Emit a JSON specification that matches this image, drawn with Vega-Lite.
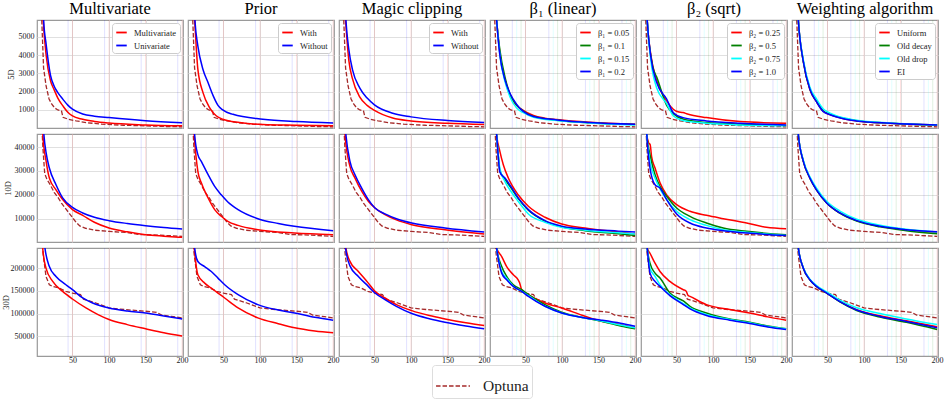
{
"$schema":"https://vega.github.io/schema/vega-lite/v6.json",
"background":"white",
"padding":{"left":0,"top":0,"right":4,"bottom":0},
"config":{
 "view":{"stroke":"#9a9a9a","strokeWidth":1.2},
 "font":"Liberation Serif",
 "axis":{"grid":true,"gridColor":"#dcdcdc","gridWidth":0.9,"domain":false,"ticks":false,"labelFont":"Liberation Serif","labelFontSize":8,"labelColor":"#222","titleFont":"Liberation Serif","titleFontSize":8.5,"titleFontWeight":"normal","titleColor":"#222"},
 "title":{"font":"Liberation Serif","fontSize":16.5,"fontWeight":"normal","anchor":"middle","offset":2,"color":"#000"},
 "legend":{"orient":"top-right","offset":3,"strokeColor":"#cccccc","fillColor":"#ffffff","cornerRadius":3,"padding":3,"symbolType":"stroke","symbolSize":110,"symbolStrokeWidth":1.8,"symbolOpacity":1,"labelFont":"Liberation Serif","labelFontSize":8.5,"labelOffset":6,"rowPadding":2,"labelColor":"#222"}
},
"datasets":{
"o5":[{"s":"Optuna","x":7,"y":7000},{"s":"Optuna","x":10.5,"y":3300},{"s":"Optuna","x":14,"y":2300},{"s":"Optuna","x":18,"y":1600},{"s":"Optuna","x":22,"y":1300},{"s":"Optuna","x":26,"y":1100},{"s":"Optuna","x":30,"y":1000},{"s":"Optuna","x":35,"y":950},{"s":"Optuna","x":37,"y":600},{"s":"Optuna","x":45,"y":480},{"s":"Optuna","x":55,"y":400},{"s":"Optuna","x":70,"y":300},{"s":"Optuna","x":90,"y":220},{"s":"Optuna","x":120,"y":160},{"s":"Optuna","x":150,"y":130},{"s":"Optuna","x":180,"y":90},{"s":"Optuna","x":200,"y":75}],
"o10":[{"s":"Optuna","x":8,"y":50000},{"s":"Optuna","x":9.5,"y":40000},{"s":"Optuna","x":12,"y":29000},{"s":"Optuna","x":15,"y":26500},{"s":"Optuna","x":20,"y":24000},{"s":"Optuna","x":25,"y":21000},{"s":"Optuna","x":30,"y":19000},{"s":"Optuna","x":35,"y":16500},{"s":"Optuna","x":40,"y":14500},{"s":"Optuna","x":45,"y":12500},{"s":"Optuna","x":50,"y":10500},{"s":"Optuna","x":55,"y":8500},{"s":"Optuna","x":60,"y":7000},{"s":"Optuna","x":68,"y":6000},{"s":"Optuna","x":80,"y":5200},{"s":"Optuna","x":100,"y":4700},{"s":"Optuna","x":125,"y":4200},{"s":"Optuna","x":140,"y":3400},{"s":"Optuna","x":170,"y":3100},{"s":"Optuna","x":200,"y":2600}],
"o30":[{"s":"Optuna","x":7,"y":280000},{"s":"Optuna","x":10,"y":230000},{"s":"Optuna","x":13.8,"y":181800},{"s":"Optuna","x":18.4,"y":163600},{"s":"Optuna","x":23,"y":160000},{"s":"Optuna","x":32,"y":156300},{"s":"Optuna","x":41,"y":149000},{"s":"Optuna","x":50,"y":145400},{"s":"Optuna","x":61,"y":141800},{"s":"Optuna","x":65,"y":132000},{"s":"Optuna","x":75,"y":127000},{"s":"Optuna","x":82,"y":123500},{"s":"Optuna","x":100,"y":112600},{"s":"Optuna","x":122,"y":109000},{"s":"Optuna","x":150,"y":105400},{"s":"Optuna","x":165,"y":103000},{"s":"Optuna","x":172,"y":97000},{"s":"Optuna","x":185,"y":94000},{"s":"Optuna","x":200,"y":90800}],
"sp1":[{"s":"Multivariate","x":50},{"s":"Multivariate","x":100},{"s":"Multivariate","x":150},{"s":"Multivariate","x":200},{"s":"Univariate","x":44},{"s":"Univariate","x":94},{"s":"Univariate","x":144},{"s":"Univariate","x":194}],
"sp2":[{"s":"With","x":50},{"s":"With","x":100},{"s":"With","x":150},{"s":"With","x":200},{"s":"Without","x":44},{"s":"Without","x":94},{"s":"Without","x":144},{"s":"Without","x":194}],
"sp4":[{"s":"β₁ = 0.05","x":50},{"s":"β₁ = 0.05","x":100},{"s":"β₁ = 0.05","x":150},{"s":"β₁ = 0.05","x":200},{"s":"β₁ = 0.1","x":44},{"s":"β₁ = 0.1","x":94},{"s":"β₁ = 0.1","x":144},{"s":"β₁ = 0.1","x":194},{"s":"β₁ = 0.15","x":38},{"s":"β₁ = 0.15","x":88},{"s":"β₁ = 0.15","x":138},{"s":"β₁ = 0.15","x":188},{"s":"β₁ = 0.2","x":32},{"s":"β₁ = 0.2","x":82},{"s":"β₁ = 0.2","x":132},{"s":"β₁ = 0.2","x":182}],
"sp5":[{"s":"β₂ = 0.25","x":50},{"s":"β₂ = 0.25","x":100},{"s":"β₂ = 0.25","x":150},{"s":"β₂ = 0.25","x":200},{"s":"β₂ = 0.5","x":44},{"s":"β₂ = 0.5","x":94},{"s":"β₂ = 0.5","x":144},{"s":"β₂ = 0.5","x":194},{"s":"β₂ = 0.75","x":38},{"s":"β₂ = 0.75","x":88},{"s":"β₂ = 0.75","x":138},{"s":"β₂ = 0.75","x":188},{"s":"β₂ = 1.0","x":32},{"s":"β₂ = 1.0","x":82},{"s":"β₂ = 1.0","x":132},{"s":"β₂ = 1.0","x":182}],
"sp6":[{"s":"Uniform","x":50},{"s":"Uniform","x":100},{"s":"Uniform","x":150},{"s":"Uniform","x":200},{"s":"Old decay","x":44},{"s":"Old decay","x":94},{"s":"Old decay","x":144},{"s":"Old decay","x":194},{"s":"Old drop","x":38},{"s":"Old drop","x":88},{"s":"Old drop","x":138},{"s":"Old drop","x":188},{"s":"EI","x":32},{"s":"EI","x":82},{"s":"EI","x":132},{"s":"EI","x":182}],
"p11":[{"s":"Multivariate","x":8,"y":7500},{"s":"Multivariate","x":10,"y":5900},{"s":"Multivariate","x":14,"y":4000},{"s":"Multivariate","x":20,"y":2600},{"s":"Multivariate","x":25,"y":2100},{"s":"Multivariate","x":30,"y":1650},{"s":"Multivariate","x":37,"y":1220},{"s":"Multivariate","x":44,"y":860},{"s":"Multivariate","x":50,"y":670},{"s":"Multivariate","x":64,"y":490},{"s":"Multivariate","x":80,"y":370},{"s":"Multivariate","x":100,"y":280},{"s":"Multivariate","x":150,"y":180},{"s":"Multivariate","x":200,"y":130},
{"s":"Univariate","x":9,"y":7500},{"s":"Univariate","x":10.6,"y":5900},{"s":"Univariate","x":14,"y":4600},{"s":"Univariate","x":20,"y":2900},{"s":"Univariate","x":25,"y":2300},{"s":"Univariate","x":30,"y":1950},{"s":"Univariate","x":37,"y":1580},{"s":"Univariate","x":44,"y":1250},{"s":"Univariate","x":50,"y":1040},{"s":"Univariate","x":64,"y":780},{"s":"Univariate","x":80,"y":660},{"s":"Univariate","x":100,"y":580},{"s":"Univariate","x":150,"y":410},{"s":"Univariate","x":200,"y":300}],
"p12":[{"s":"With","x":8,"y":7500},{"s":"With","x":10.6,"y":5900},{"s":"With","x":15,"y":3220},{"s":"With","x":22,"y":1950},{"s":"With","x":31,"y":1130},{"s":"With","x":40,"y":680},{"s":"With","x":49,"y":490},{"s":"With","x":72,"y":310},{"s":"With","x":104,"y":200},{"s":"With","x":150,"y":165},{"s":"With","x":200,"y":130},
{"s":"Without","x":9,"y":7500},{"s":"Without","x":11,"y":5900},{"s":"Without","x":15,"y":4500},{"s":"Without","x":22,"y":3220},{"s":"Without","x":29,"y":2490},{"s":"Without","x":36,"y":1770},{"s":"Without","x":42.5,"y":1250},{"s":"Without","x":49,"y":1000},{"s":"Without","x":63,"y":760},{"s":"Without","x":104,"y":490},{"s":"Without","x":150,"y":360},{"s":"Without","x":200,"y":280}],
"p13":[{"s":"With","x":8,"y":7500},{"s":"With","x":10.5,"y":5900},{"s":"With","x":15,"y":3700},{"s":"With","x":20,"y":2700},{"s":"With","x":30,"y":1700},{"s":"With","x":40,"y":1250},{"s":"With","x":50,"y":980},{"s":"With","x":75,"y":560},{"s":"With","x":100,"y":400},{"s":"With","x":150,"y":270},{"s":"With","x":200,"y":200},
{"s":"Without","x":9,"y":7500},{"s":"Without","x":11,"y":5900},{"s":"Without","x":15,"y":4300},{"s":"Without","x":20,"y":3200},{"s":"Without","x":30,"y":2200},{"s":"Without","x":40,"y":1650},{"s":"Without","x":50,"y":1280},{"s":"Without","x":75,"y":820},{"s":"Without","x":100,"y":620},{"s":"Without","x":150,"y":420},{"s":"Without","x":200,"y":310}],
"p14":[{"s":"β₁ = 0.05","x":8,"y":7500},{"s":"β₁ = 0.05","x":10.6,"y":5900},{"s":"β₁ = 0.05","x":15,"y":4100},{"s":"β₁ = 0.05","x":22,"y":2650},{"s":"β₁ = 0.05","x":29,"y":1800},{"s":"β₁ = 0.05","x":38,"y":1250},{"s":"β₁ = 0.05","x":47,"y":980},{"s":"β₁ = 0.05","x":61,"y":700},{"s":"β₁ = 0.05","x":75,"y":560},{"s":"β₁ = 0.05","x":93,"y":470},{"s":"β₁ = 0.05","x":138,"y":320},{"s":"β₁ = 0.05","x":200,"y":220},
{"s":"β₁ = 0.1","x":8,"y":7500},{"s":"β₁ = 0.1","x":10.6,"y":5900},{"s":"β₁ = 0.1","x":15,"y":4300},{"s":"β₁ = 0.1","x":22,"y":2800},{"s":"β₁ = 0.1","x":29,"y":1850},{"s":"β₁ = 0.1","x":38,"y":1250},{"s":"β₁ = 0.1","x":47,"y":940},{"s":"β₁ = 0.1","x":61,"y":640},{"s":"β₁ = 0.1","x":93,"y":440},{"s":"β₁ = 0.1","x":138,"y":300},{"s":"β₁ = 0.1","x":200,"y":200},
{"s":"β₁ = 0.15","x":8,"y":7500},{"s":"β₁ = 0.15","x":10.6,"y":5900},{"s":"β₁ = 0.15","x":15,"y":4000},{"s":"β₁ = 0.15","x":22,"y":2550},{"s":"β₁ = 0.15","x":29,"y":1700},{"s":"β₁ = 0.15","x":38,"y":1100},{"s":"β₁ = 0.15","x":47,"y":850},{"s":"β₁ = 0.15","x":61,"y":600},{"s":"β₁ = 0.15","x":93,"y":420},{"s":"β₁ = 0.15","x":138,"y":290},{"s":"β₁ = 0.15","x":200,"y":180},
{"s":"β₁ = 0.2","x":8,"y":7500},{"s":"β₁ = 0.2","x":10.6,"y":5900},{"s":"β₁ = 0.2","x":15,"y":4000},{"s":"β₁ = 0.2","x":22,"y":2650},{"s":"β₁ = 0.2","x":29,"y":1900},{"s":"β₁ = 0.2","x":38,"y":1300},{"s":"β₁ = 0.2","x":47,"y":920},{"s":"β₁ = 0.2","x":61,"y":640},{"s":"β₁ = 0.2","x":93,"y":450},{"s":"β₁ = 0.2","x":138,"y":310},{"s":"β₁ = 0.2","x":200,"y":210}],
"p15":[{"s":"β₂ = 0.25","x":8,"y":7500},{"s":"β₂ = 0.25","x":10,"y":5900},{"s":"β₂ = 0.25","x":15,"y":4000},{"s":"β₂ = 0.25","x":23,"y":2600},{"s":"β₂ = 0.25","x":36.6,"y":1500},{"s":"β₂ = 0.25","x":45.7,"y":1040},{"s":"β₂ = 0.25","x":52,"y":900},{"s":"β₂ = 0.25","x":59,"y":860},{"s":"β₂ = 0.25","x":65,"y":780},{"s":"β₂ = 0.25","x":91,"y":580},{"s":"β₂ = 0.25","x":137,"y":360},{"s":"β₂ = 0.25","x":200,"y":270},
{"s":"β₂ = 0.5","x":8,"y":7500},{"s":"β₂ = 0.5","x":10,"y":5900},{"s":"β₂ = 0.5","x":18,"y":3300},{"s":"β₂ = 0.5","x":23,"y":2800},{"s":"β₂ = 0.5","x":36.6,"y":1250},{"s":"β₂ = 0.5","x":45.7,"y":800},{"s":"β₂ = 0.5","x":59,"y":500},{"s":"β₂ = 0.5","x":91,"y":310},{"s":"β₂ = 0.5","x":137,"y":220},{"s":"β₂ = 0.5","x":200,"y":150},
{"s":"β₂ = 0.75","x":8,"y":7500},{"s":"β₂ = 0.75","x":10,"y":5900},{"s":"β₂ = 0.75","x":15,"y":3700},{"s":"β₂ = 0.75","x":23,"y":2200},{"s":"β₂ = 0.75","x":36.6,"y":1350},{"s":"β₂ = 0.75","x":45.7,"y":680},{"s":"β₂ = 0.75","x":59,"y":420},{"s":"β₂ = 0.75","x":91,"y":270},{"s":"β₂ = 0.75","x":137,"y":180},{"s":"β₂ = 0.75","x":200,"y":130},
{"s":"β₂ = 1.0","x":8,"y":7500},{"s":"β₂ = 1.0","x":10,"y":5900},{"s":"β₂ = 1.0","x":15,"y":3900},{"s":"β₂ = 1.0","x":23,"y":2500},{"s":"β₂ = 1.0","x":36.6,"y":1600},{"s":"β₂ = 1.0","x":45.7,"y":850},{"s":"β₂ = 1.0","x":59,"y":580},{"s":"β₂ = 1.0","x":91,"y":400},{"s":"β₂ = 1.0","x":137,"y":270},{"s":"β₂ = 1.0","x":200,"y":180}],
"p16":[{"s":"Uniform","x":8,"y":7500},{"s":"Uniform","x":10.2,"y":5900},{"s":"Uniform","x":17,"y":3650},{"s":"Uniform","x":26,"y":2100},{"s":"Uniform","x":35,"y":1450},{"s":"Uniform","x":44,"y":930},{"s":"Uniform","x":53.5,"y":740},{"s":"Uniform","x":72,"y":520},{"s":"Uniform","x":90,"y":400},{"s":"Uniform","x":136,"y":270},{"s":"Uniform","x":200,"y":180},
{"s":"Old decay","x":8,"y":7500},{"s":"Old decay","x":10.2,"y":5900},{"s":"Old decay","x":17,"y":3650},{"s":"Old decay","x":26,"y":2150},{"s":"Old decay","x":35,"y":1480},{"s":"Old decay","x":44,"y":960},{"s":"Old decay","x":53.5,"y":770},{"s":"Old decay","x":72,"y":540},{"s":"Old decay","x":90,"y":410},{"s":"Old decay","x":136,"y":270},{"s":"Old decay","x":200,"y":170},
{"s":"Old drop","x":8,"y":7500},{"s":"Old drop","x":10.2,"y":5900},{"s":"Old drop","x":17,"y":3750},{"s":"Old drop","x":26,"y":2250},{"s":"Old drop","x":35,"y":1600},{"s":"Old drop","x":44,"y":1060},{"s":"Old drop","x":53.5,"y":830},{"s":"Old drop","x":72,"y":570},{"s":"Old drop","x":90,"y":430},{"s":"Old drop","x":136,"y":280},{"s":"Old drop","x":200,"y":180},
{"s":"EI","x":8,"y":7500},{"s":"EI","x":10.2,"y":5900},{"s":"EI","x":17,"y":3650},{"s":"EI","x":26,"y":2130},{"s":"EI","x":35,"y":1450},{"s":"EI","x":44,"y":920},{"s":"EI","x":53.5,"y":740},{"s":"EI","x":72,"y":520},{"s":"EI","x":90,"y":400},{"s":"EI","x":136,"y":270},{"s":"EI","x":200,"y":175}],
"p21":[{"s":"Multivariate","x":8,"y":55000},{"s":"Multivariate","x":9.5,"y":45000},{"s":"Multivariate","x":14,"y":34000},{"s":"Multivariate","x":18.4,"y":27000},{"s":"Multivariate","x":27.5,"y":22100},{"s":"Multivariate","x":36.6,"y":18000},{"s":"Multivariate","x":50,"y":13800},{"s":"Multivariate","x":64,"y":11400},{"s":"Multivariate","x":80,"y":8500},{"s":"Multivariate","x":100,"y":6100},{"s":"Multivariate","x":125,"y":4500},{"s":"Multivariate","x":150,"y":3310},{"s":"Multivariate","x":175,"y":2700},{"s":"Multivariate","x":200,"y":2200},
{"s":"Univariate","x":9,"y":55000},{"s":"Univariate","x":11,"y":45000},{"s":"Univariate","x":14,"y":37500},{"s":"Univariate","x":18.4,"y":31200},{"s":"Univariate","x":27.5,"y":24200},{"s":"Univariate","x":36.6,"y":18700},{"s":"Univariate","x":50,"y":14750},{"s":"Univariate","x":64,"y":12400},{"s":"Univariate","x":80,"y":10600},{"s":"Univariate","x":100,"y":9170},{"s":"Univariate","x":125,"y":8000},{"s":"Univariate","x":150,"y":7080},{"s":"Univariate","x":175,"y":6300},{"s":"Univariate","x":200,"y":5680}],
"p22":[{"s":"With","x":8,"y":55000},{"s":"With","x":10,"y":45000},{"s":"With","x":15,"y":29800},{"s":"With","x":19.7,"y":25000},{"s":"With","x":29,"y":18700},{"s":"With","x":38,"y":13800},{"s":"With","x":47,"y":11000},{"s":"With","x":56,"y":8900},{"s":"With","x":70,"y":7200},{"s":"With","x":97,"y":5400},{"s":"With","x":147,"y":4000},{"s":"With","x":200,"y":3300},
{"s":"Without","x":8.5,"y":55000},{"s":"Without","x":10.6,"y":45000},{"s":"Without","x":15,"y":36800},{"s":"Without","x":19.7,"y":34000},{"s":"Without","x":29,"y":28400},{"s":"Without","x":38,"y":23500},{"s":"Without","x":47,"y":20000},{"s":"Without","x":56,"y":17000},{"s":"Without","x":70,"y":13800},{"s":"Without","x":97,"y":10000},{"s":"Without","x":125,"y":8000},{"s":"Without","x":147,"y":6800},{"s":"Without","x":200,"y":5000}],
"p23":[{"s":"With","x":8,"y":55000},{"s":"With","x":9.8,"y":45000},{"s":"With","x":16.5,"y":31900},{"s":"With","x":23.4,"y":27000},{"s":"With","x":32.5,"y":21500},{"s":"With","x":41.6,"y":17300},{"s":"With","x":50.7,"y":14500},{"s":"With","x":64.4,"y":11700},{"s":"With","x":80,"y":9500},{"s":"With","x":101,"y":7500},{"s":"With","x":146.5,"y":5400},{"s":"With","x":200,"y":3600},
{"s":"Without","x":8.5,"y":55000},{"s":"Without","x":11,"y":45000},{"s":"Without","x":16.5,"y":34000},{"s":"Without","x":23.4,"y":28400},{"s":"Without","x":32.5,"y":22800},{"s":"Without","x":41.6,"y":18000},{"s":"Without","x":50.7,"y":14500},{"s":"Without","x":64.4,"y":12000},{"s":"Without","x":80,"y":10000},{"s":"Without","x":101,"y":8200},{"s":"Without","x":146.5,"y":6100},{"s":"Without","x":200,"y":4400}],
"p24":[{"s":"β₁ = 0.05","x":8,"y":55000},{"s":"β₁ = 0.05","x":10.6,"y":45000},{"s":"β₁ = 0.05","x":15,"y":38200},{"s":"β₁ = 0.05","x":19.7,"y":32600},{"s":"β₁ = 0.05","x":26.6,"y":27000},{"s":"β₁ = 0.05","x":40,"y":20000},{"s":"β₁ = 0.05","x":54,"y":15200},{"s":"β₁ = 0.05","x":76.7,"y":10600},{"s":"β₁ = 0.05","x":99.5,"y":7800},{"s":"β₁ = 0.05","x":131.5,"y":6100},{"s":"β₁ = 0.05","x":177,"y":4400},{"s":"β₁ = 0.05","x":200,"y":3600},
{"s":"β₁ = 0.1","x":8,"y":55000},{"s":"β₁ = 0.1","x":10.6,"y":45000},{"s":"β₁ = 0.1","x":13,"y":36000},{"s":"β₁ = 0.1","x":15,"y":30000},{"s":"β₁ = 0.1","x":22,"y":26500},{"s":"β₁ = 0.1","x":30,"y":23000},{"s":"β₁ = 0.1","x":40,"y":18500},{"s":"β₁ = 0.1","x":54,"y":13500},{"s":"β₁ = 0.1","x":76.7,"y":9000},{"s":"β₁ = 0.1","x":99.5,"y":6600},{"s":"β₁ = 0.1","x":131.5,"y":5000},{"s":"β₁ = 0.1","x":177,"y":3700},{"s":"β₁ = 0.1","x":200,"y":3000},
{"s":"β₁ = 0.15","x":8,"y":55000},{"s":"β₁ = 0.15","x":10.6,"y":45000},{"s":"β₁ = 0.15","x":13,"y":36000},{"s":"β₁ = 0.15","x":15,"y":31000},{"s":"β₁ = 0.15","x":22,"y":25500},{"s":"β₁ = 0.15","x":30,"y":21500},{"s":"β₁ = 0.15","x":40,"y":17300},{"s":"β₁ = 0.15","x":54,"y":12000},{"s":"β₁ = 0.15","x":76.7,"y":8500},{"s":"β₁ = 0.15","x":99.5,"y":6400},{"s":"β₁ = 0.15","x":131.5,"y":5200},{"s":"β₁ = 0.15","x":177,"y":4100},{"s":"β₁ = 0.15","x":200,"y":3600},
{"s":"β₁ = 0.2","x":8,"y":55000},{"s":"β₁ = 0.2","x":10.6,"y":45000},{"s":"β₁ = 0.2","x":13,"y":35000},{"s":"β₁ = 0.2","x":15,"y":29500},{"s":"β₁ = 0.2","x":22,"y":27000},{"s":"β₁ = 0.2","x":30,"y":23500},{"s":"β₁ = 0.2","x":40,"y":18700},{"s":"β₁ = 0.2","x":54,"y":13800},{"s":"β₁ = 0.2","x":76.7,"y":9200},{"s":"β₁ = 0.2","x":99.5,"y":6900},{"s":"β₁ = 0.2","x":131.5,"y":5700},{"s":"β₁ = 0.2","x":177,"y":4800},{"s":"β₁ = 0.2","x":200,"y":4400}],
"p25":[{"s":"β₂ = 0.25","x":8,"y":55000},{"s":"β₂ = 0.25","x":9.5,"y":45000},{"s":"β₂ = 0.25","x":12,"y":41700},{"s":"β₂ = 0.25","x":14,"y":41000},{"s":"β₂ = 0.25","x":16,"y":36000},{"s":"β₂ = 0.25","x":20.7,"y":31200},{"s":"β₂ = 0.25","x":27.5,"y":25000},{"s":"β₂ = 0.25","x":36.6,"y":20000},{"s":"β₂ = 0.25","x":50.3,"y":15900},{"s":"β₂ = 0.25","x":68.5,"y":13100},{"s":"β₂ = 0.25","x":91,"y":11400},{"s":"β₂ = 0.25","x":114,"y":10000},{"s":"β₂ = 0.25","x":146,"y":8200},{"s":"β₂ = 0.25","x":173,"y":6400},{"s":"β₂ = 0.25","x":200,"y":5800},
{"s":"β₂ = 0.5","x":8,"y":55000},{"s":"β₂ = 0.5","x":9.5,"y":45000},{"s":"β₂ = 0.5","x":13.8,"y":36800},{"s":"β₂ = 0.5","x":20.7,"y":28400},{"s":"β₂ = 0.5","x":27.5,"y":23500},{"s":"β₂ = 0.5","x":36.6,"y":19400},{"s":"β₂ = 0.5","x":50.3,"y":14500},{"s":"β₂ = 0.5","x":68.5,"y":11000},{"s":"β₂ = 0.5","x":91,"y":8200},{"s":"β₂ = 0.5","x":114,"y":6100},{"s":"β₂ = 0.5","x":146,"y":4700},{"s":"β₂ = 0.5","x":200,"y":3300},
{"s":"β₂ = 0.75","x":8,"y":55000},{"s":"β₂ = 0.75","x":9.5,"y":45000},{"s":"β₂ = 0.75","x":13.8,"y":34000},{"s":"β₂ = 0.75","x":20.7,"y":27000},{"s":"β₂ = 0.75","x":27.5,"y":22500},{"s":"β₂ = 0.75","x":36.6,"y":18000},{"s":"β₂ = 0.75","x":50.3,"y":13100},{"s":"β₂ = 0.75","x":68.5,"y":9600},{"s":"β₂ = 0.75","x":91,"y":7200},{"s":"β₂ = 0.75","x":114,"y":5400},{"s":"β₂ = 0.75","x":146,"y":4300},{"s":"β₂ = 0.75","x":200,"y":3000},
{"s":"β₂ = 1.0","x":8,"y":55000},{"s":"β₂ = 1.0","x":9.5,"y":45000},{"s":"β₂ = 1.0","x":13.8,"y":31200},{"s":"β₂ = 1.0","x":20.7,"y":24200},{"s":"β₂ = 1.0","x":27.5,"y":22800},{"s":"β₂ = 1.0","x":36.6,"y":18000},{"s":"β₂ = 1.0","x":50.3,"y":12000},{"s":"β₂ = 1.0","x":68.5,"y":8200},{"s":"β₂ = 1.0","x":91,"y":6100},{"s":"β₂ = 1.0","x":114,"y":5000},{"s":"β₂ = 1.0","x":146,"y":4000},{"s":"β₂ = 1.0","x":200,"y":3000}],
"p26":[{"s":"Uniform","x":8,"y":55000},{"s":"Uniform","x":10.2,"y":45000},{"s":"Uniform","x":17,"y":34000},{"s":"Uniform","x":26,"y":27000},{"s":"Uniform","x":35,"y":22100},{"s":"Uniform","x":49,"y":16600},{"s":"Uniform","x":67,"y":12400},{"s":"Uniform","x":90,"y":9200},{"s":"Uniform","x":122,"y":6800},{"s":"Uniform","x":158,"y":5400},{"s":"Uniform","x":200,"y":4300},
{"s":"Old decay","x":8,"y":55000},{"s":"Old decay","x":10.2,"y":45000},{"s":"Old decay","x":17,"y":34000},{"s":"Old decay","x":26,"y":27000},{"s":"Old decay","x":35,"y":22100},{"s":"Old decay","x":49,"y":16600},{"s":"Old decay","x":67,"y":12300},{"s":"Old decay","x":90,"y":9000},{"s":"Old decay","x":122,"y":6600},{"s":"Old decay","x":158,"y":5000},{"s":"Old decay","x":200,"y":3700},
{"s":"Old drop","x":8,"y":55000},{"s":"Old drop","x":10.2,"y":45000},{"s":"Old drop","x":17,"y":34500},{"s":"Old drop","x":26,"y":27500},{"s":"Old drop","x":35,"y":22800},{"s":"Old drop","x":49,"y":17300},{"s":"Old drop","x":67,"y":13200},{"s":"Old drop","x":90,"y":9800},{"s":"Old drop","x":122,"y":7300},{"s":"Old drop","x":158,"y":5600},{"s":"Old drop","x":200,"y":4400},
{"s":"EI","x":8,"y":55000},{"s":"EI","x":10.2,"y":45000},{"s":"EI","x":17,"y":34000},{"s":"EI","x":26,"y":27000},{"s":"EI","x":35,"y":22100},{"s":"EI","x":49,"y":16600},{"s":"EI","x":67,"y":12400},{"s":"EI","x":90,"y":9200},{"s":"EI","x":122,"y":6800},{"s":"EI","x":158,"y":5400},{"s":"EI","x":200,"y":4500}],
"p31":[{"s":"Multivariate","x":8,"y":280000},{"s":"Multivariate","x":9.3,"y":244000},{"s":"Multivariate","x":13.8,"y":200000},{"s":"Multivariate","x":23,"y":170900},{"s":"Multivariate","x":36.6,"y":149000},{"s":"Multivariate","x":50,"y":132300},{"s":"Multivariate","x":68.5,"y":112600},{"s":"Multivariate","x":85,"y":98000},{"s":"Multivariate","x":100,"y":87200},{"s":"Multivariate","x":125,"y":76000},{"s":"Multivariate","x":150,"y":66800},{"s":"Multivariate","x":175,"y":58000},{"s":"Multivariate","x":200,"y":50800},
{"s":"Univariate","x":10,"y":280000},{"s":"Univariate","x":12.4,"y":244000},{"s":"Univariate","x":18.4,"y":203600},{"s":"Univariate","x":27.5,"y":181800},{"s":"Univariate","x":41,"y":163600},{"s":"Univariate","x":50,"y":152700},{"s":"Univariate","x":64,"y":134500},{"s":"Univariate","x":77.6,"y":123500},{"s":"Univariate","x":100,"y":112600},{"s":"Univariate","x":125,"y":106000},{"s":"Univariate","x":150,"y":101700},{"s":"Univariate","x":175,"y":95000},{"s":"Univariate","x":200,"y":88600}],
"p32":[{"s":"With","x":8,"y":280000},{"s":"With","x":10,"y":244000},{"s":"With","x":15,"y":185400},{"s":"With","x":24.3,"y":167200},{"s":"With","x":33.4,"y":156300},{"s":"With","x":42.5,"y":145400},{"s":"With","x":51.7,"y":134500},{"s":"With","x":70,"y":112600},{"s":"With","x":97,"y":90800},{"s":"With","x":125,"y":78000},{"s":"With","x":147.4,"y":69000},{"s":"With","x":175,"y":62000},{"s":"With","x":200,"y":58000},
{"s":"Without","x":8.5,"y":280000},{"s":"Without","x":10.6,"y":244000},{"s":"Without","x":15,"y":214600},{"s":"Without","x":24.3,"y":203600},{"s":"Without","x":33.4,"y":192700},{"s":"Without","x":42.5,"y":178200},{"s":"Without","x":51.7,"y":163600},{"s":"Without","x":70,"y":141800},{"s":"Without","x":97,"y":119900},{"s":"Without","x":125,"y":108000},{"s":"Without","x":147.4,"y":101700},{"s":"Without","x":175,"y":92000},{"s":"Without","x":200,"y":85700}],
"p33":[{"s":"With","x":9,"y":280000},{"s":"With","x":11,"y":244000},{"s":"With","x":16.5,"y":215000},{"s":"With","x":28,"y":192700},{"s":"With","x":41.6,"y":167200},{"s":"With","x":50.7,"y":149000},{"s":"With","x":64.4,"y":134500},{"s":"With","x":80,"y":120000},{"s":"With","x":101,"y":106800},{"s":"With","x":125,"y":96000},{"s":"With","x":146.5,"y":88600},{"s":"With","x":175,"y":80000},{"s":"With","x":200,"y":74000},
{"s":"Without","x":8.5,"y":280000},{"s":"Without","x":10.5,"y":244000},{"s":"Without","x":16.5,"y":205000},{"s":"Without","x":28,"y":181800},{"s":"Without","x":41.6,"y":160000},{"s":"Without","x":50.7,"y":145400},{"s":"Without","x":64.4,"y":130900},{"s":"Without","x":80,"y":116000},{"s":"Without","x":101,"y":100300},{"s":"Without","x":125,"y":89000},{"s":"Without","x":146.5,"y":81300},{"s":"Without","x":175,"y":73000},{"s":"Without","x":200,"y":66800}],
"p34":[{"s":"β₁ = 0.05","x":8,"y":280000},{"s":"β₁ = 0.05","x":10.6,"y":244000},{"s":"β₁ = 0.05","x":17.5,"y":225500},{"s":"β₁ = 0.05","x":24.3,"y":203600},{"s":"β₁ = 0.05","x":33.4,"y":185400},{"s":"β₁ = 0.05","x":40,"y":174500},{"s":"β₁ = 0.05","x":42,"y":168000},{"s":"β₁ = 0.05","x":44.8,"y":152700},{"s":"β₁ = 0.05","x":54,"y":141800},{"s":"β₁ = 0.05","x":76.7,"y":123500},{"s":"β₁ = 0.05","x":99.5,"y":112600},{"s":"β₁ = 0.05","x":131.5,"y":94400},{"s":"β₁ = 0.05","x":154,"y":83500},{"s":"β₁ = 0.05","x":180,"y":76000},{"s":"β₁ = 0.05","x":200,"y":69000},
{"s":"β₁ = 0.1","x":8,"y":280000},{"s":"β₁ = 0.1","x":10.6,"y":244000},{"s":"β₁ = 0.1","x":17.5,"y":203600},{"s":"β₁ = 0.1","x":24.3,"y":181800},{"s":"β₁ = 0.1","x":33.4,"y":163600},{"s":"β₁ = 0.1","x":44.8,"y":152700},{"s":"β₁ = 0.1","x":54,"y":141800},{"s":"β₁ = 0.1","x":76.7,"y":119900},{"s":"β₁ = 0.1","x":99.5,"y":103200},{"s":"β₁ = 0.1","x":131.5,"y":90800},{"s":"β₁ = 0.1","x":154,"y":83500},{"s":"β₁ = 0.1","x":180,"y":73000},{"s":"β₁ = 0.1","x":200,"y":66800},
{"s":"β₁ = 0.15","x":8,"y":280000},{"s":"β₁ = 0.15","x":10.6,"y":244000},{"s":"β₁ = 0.15","x":17.5,"y":192700},{"s":"β₁ = 0.15","x":24.3,"y":178200},{"s":"β₁ = 0.15","x":33.4,"y":160000},{"s":"β₁ = 0.15","x":44.8,"y":149000},{"s":"β₁ = 0.15","x":54,"y":139600},{"s":"β₁ = 0.15","x":76.7,"y":116300},{"s":"β₁ = 0.15","x":99.5,"y":101700},{"s":"β₁ = 0.15","x":131.5,"y":90800},{"s":"β₁ = 0.15","x":154,"y":84000},{"s":"β₁ = 0.15","x":180,"y":75000},{"s":"β₁ = 0.15","x":200,"y":69000},
{"s":"β₁ = 0.2","x":8,"y":280000},{"s":"β₁ = 0.2","x":10.6,"y":244000},{"s":"β₁ = 0.2","x":17.5,"y":189100},{"s":"β₁ = 0.2","x":24.3,"y":174500},{"s":"β₁ = 0.2","x":33.4,"y":160000},{"s":"β₁ = 0.2","x":44.8,"y":149000},{"s":"β₁ = 0.2","x":54,"y":138100},{"s":"β₁ = 0.2","x":76.7,"y":116300},{"s":"β₁ = 0.2","x":99.5,"y":101700},{"s":"β₁ = 0.2","x":131.5,"y":90800},{"s":"β₁ = 0.2","x":154,"y":85700},{"s":"β₁ = 0.2","x":180,"y":79000},{"s":"β₁ = 0.2","x":200,"y":72600}],
"p35":[{"s":"β₂ = 0.25","x":8,"y":280000},{"s":"β₂ = 0.25","x":10,"y":244000},{"s":"β₂ = 0.25","x":13.8,"y":232800},{"s":"β₂ = 0.25","x":20.7,"y":210900},{"s":"β₂ = 0.25","x":27.5,"y":192700},{"s":"β₂ = 0.25","x":41,"y":170900},{"s":"β₂ = 0.25","x":59.4,"y":152700},{"s":"β₂ = 0.25","x":63,"y":150000},{"s":"β₂ = 0.25","x":66,"y":140000},{"s":"β₂ = 0.25","x":68.5,"y":138100},{"s":"β₂ = 0.25","x":91,"y":119900},{"s":"β₂ = 0.25","x":123,"y":109000},{"s":"β₂ = 0.25","x":150,"y":101700},{"s":"β₂ = 0.25","x":175,"y":93000},{"s":"β₂ = 0.25","x":200,"y":85700},
{"s":"β₂ = 0.5","x":8,"y":280000},{"s":"β₂ = 0.5","x":10,"y":244000},{"s":"β₂ = 0.5","x":13.8,"y":210900},{"s":"β₂ = 0.5","x":20.7,"y":189100},{"s":"β₂ = 0.5","x":27.5,"y":178200},{"s":"β₂ = 0.5","x":41,"y":145400},{"s":"β₂ = 0.5","x":59.4,"y":128000},{"s":"β₂ = 0.5","x":68.5,"y":116300},{"s":"β₂ = 0.5","x":91,"y":101700},{"s":"β₂ = 0.5","x":123,"y":88600},{"s":"β₂ = 0.5","x":150,"y":81300},{"s":"β₂ = 0.5","x":175,"y":73000},{"s":"β₂ = 0.5","x":200,"y":66800},
{"s":"β₂ = 0.75","x":8,"y":280000},{"s":"β₂ = 0.75","x":10,"y":244000},{"s":"β₂ = 0.75","x":13.8,"y":200000},{"s":"β₂ = 0.75","x":20.7,"y":181800},{"s":"β₂ = 0.75","x":27.5,"y":163600},{"s":"β₂ = 0.75","x":41,"y":141800},{"s":"β₂ = 0.75","x":59.4,"y":122000},{"s":"β₂ = 0.75","x":68.5,"y":112600},{"s":"β₂ = 0.75","x":91,"y":98100},{"s":"β₂ = 0.75","x":123,"y":87200},{"s":"β₂ = 0.75","x":150,"y":80000},{"s":"β₂ = 0.75","x":175,"y":72000},{"s":"β₂ = 0.75","x":200,"y":66800},
{"s":"β₂ = 1.0","x":8,"y":280000},{"s":"β₂ = 1.0","x":10,"y":244000},{"s":"β₂ = 1.0","x":13.8,"y":189100},{"s":"β₂ = 1.0","x":20.7,"y":170900},{"s":"β₂ = 1.0","x":27.5,"y":160000},{"s":"β₂ = 1.0","x":41,"y":139600},{"s":"β₂ = 1.0","x":59.4,"y":120000},{"s":"β₂ = 1.0","x":68.5,"y":110500},{"s":"β₂ = 1.0","x":91,"y":96000},{"s":"β₂ = 1.0","x":123,"y":85700},{"s":"β₂ = 1.0","x":150,"y":78400},{"s":"β₂ = 1.0","x":175,"y":71000},{"s":"β₂ = 1.0","x":200,"y":65300}],
"p36":[{"s":"Uniform","x":8,"y":280000},{"s":"Uniform","x":10.2,"y":244000},{"s":"Uniform","x":17,"y":200000},{"s":"Uniform","x":26,"y":174500},{"s":"Uniform","x":35,"y":160000},{"s":"Uniform","x":49,"y":145400},{"s":"Uniform","x":67,"y":127200},{"s":"Uniform","x":90,"y":109000},{"s":"Uniform","x":122,"y":95500},{"s":"Uniform","x":158,"y":84500},{"s":"Uniform","x":200,"y":71500},
{"s":"Old decay","x":8,"y":280000},{"s":"Old decay","x":10.2,"y":244000},{"s":"Old decay","x":17,"y":200000},{"s":"Old decay","x":26,"y":174500},{"s":"Old decay","x":35,"y":160000},{"s":"Old decay","x":49,"y":145400},{"s":"Old decay","x":67,"y":126000},{"s":"Old decay","x":90,"y":107000},{"s":"Old decay","x":122,"y":92500},{"s":"Old decay","x":158,"y":81000},{"s":"Old decay","x":200,"y":65300},
{"s":"Old drop","x":8,"y":280000},{"s":"Old drop","x":10.2,"y":244000},{"s":"Old drop","x":17,"y":201000},{"s":"Old drop","x":26,"y":176000},{"s":"Old drop","x":35,"y":162000},{"s":"Old drop","x":49,"y":148000},{"s":"Old drop","x":67,"y":130000},{"s":"Old drop","x":90,"y":113000},{"s":"Old drop","x":122,"y":100300},{"s":"Old drop","x":158,"y":88600},{"s":"Old drop","x":200,"y":76200},
{"s":"EI","x":8,"y":280000},{"s":"EI","x":10.2,"y":244000},{"s":"EI","x":17,"y":200000},{"s":"EI","x":26,"y":174500},{"s":"EI","x":35,"y":160000},{"s":"EI","x":49,"y":145400},{"s":"EI","x":67,"y":126500},{"s":"EI","x":90,"y":108000},{"s":"EI","x":122,"y":94000},{"s":"EI","x":158,"y":83000},{"s":"EI","x":200,"y":69000}]
},
"columns":6,
"spacing":{"row":6,"column":5},
"bounds":"flush",
"resolve":{"scale":{"color":"independent","strokeDash":"independent"},"legend":{"color":"independent","strokeDash":"independent"}},
"concat":[
 {"width":146,"height":108,"title":"Multivariate","data":{"name":"p11"},
  "encoding":{"x":{"field":"x","type":"quantitative","scale":{"domain":[1.5,201.2],"nice":false,"zero":false},"axis":{"title":null,"labels":false,"values":[50,100,150,200]}},
   "color":{"field":"s","type":"nominal","scale":{"domain":["Multivariate","Univariate"],"range":["#ff0000","#0000ff"]},"legend":{"title":null}}},
  "layer":[
   {"data":{"name":"sp1"},"mark":{"type":"rule","strokeWidth":1,"opacity":0.12},"encoding":{}},
   {"data":{"name":"o5"},"mark":{"type":"line","clip":true,"strokeDash":[4.5,2],"strokeWidth":1.3},"encoding":{"y":{"field":"y","type":"quantitative","scale":{"domain":[10,5930],"nice":false,"zero":false},"axis":{"title":"5D","values":[1000,2000,3000,4000,5000],"format":"d","titlePadding":3,"labelPadding":3}},"color":{"value":"#a52a2a"}}},
   {"mark":{"type":"line","clip":true,"interpolate":"monotone","strokeWidth":1.5},"encoding":{"y":{"field":"y","type":"quantitative","scale":{"domain":[10,5930],"nice":false,"zero":false},"axis":{"title":"5D","values":[1000,2000,3000,4000,5000],"format":"d","titlePadding":3,"labelPadding":3}}}}
  ]},
 {"width":146,"height":108,"title":"Prior","data":{"name":"p12"},
  "encoding":{"x":{"field":"x","type":"quantitative","scale":{"domain":[1.5,201.2],"nice":false,"zero":false},"axis":{"title":null,"labels":false,"values":[50,100,150,200]}},
   "color":{"field":"s","type":"nominal","scale":{"domain":["With","Without"],"range":["#ff0000","#0000ff"]},"legend":{"title":null}}},
  "layer":[
   {"data":{"name":"sp2"},"mark":{"type":"rule","strokeWidth":1,"opacity":0.12},"encoding":{}},
   {"data":{"name":"o5"},"mark":{"type":"line","clip":true,"strokeDash":[4.5,2],"strokeWidth":1.3},"encoding":{"y":{"field":"y","type":"quantitative","scale":{"domain":[10,5930],"nice":false,"zero":false},"axis":{"title":null,"labels":false,"values":[1000,2000,3000,4000,5000]}},"color":{"value":"#a52a2a"}}},
   {"mark":{"type":"line","clip":true,"interpolate":"monotone","strokeWidth":1.5},"encoding":{"y":{"field":"y","type":"quantitative","scale":{"domain":[10,5930],"nice":false,"zero":false},"axis":{"title":null,"labels":false,"values":[1000,2000,3000,4000,5000]}}}}
  ]},
 {"width":146,"height":108,"title":"Magic clipping","data":{"name":"p13"},
  "encoding":{"x":{"field":"x","type":"quantitative","scale":{"domain":[1.5,201.2],"nice":false,"zero":false},"axis":{"title":null,"labels":false,"values":[50,100,150,200]}},
   "color":{"field":"s","type":"nominal","scale":{"domain":["With","Without"],"range":["#ff0000","#0000ff"]},"legend":{"title":null}}},
  "layer":[
   {"data":{"name":"sp2"},"mark":{"type":"rule","strokeWidth":1,"opacity":0.12},"encoding":{}},
   {"data":{"name":"o5"},"mark":{"type":"line","clip":true,"strokeDash":[4.5,2],"strokeWidth":1.3},"encoding":{"y":{"field":"y","type":"quantitative","scale":{"domain":[10,5930],"nice":false,"zero":false},"axis":{"title":null,"labels":false,"values":[1000,2000,3000,4000,5000]}},"color":{"value":"#a52a2a"}}},
   {"mark":{"type":"line","clip":true,"interpolate":"monotone","strokeWidth":1.5},"encoding":{"y":{"field":"y","type":"quantitative","scale":{"domain":[10,5930],"nice":false,"zero":false},"axis":{"title":null,"labels":false,"values":[1000,2000,3000,4000,5000]}}}}
  ]},
 {"width":146,"height":108,"title":"β₁ (linear)","data":{"name":"p14"},
  "encoding":{"x":{"field":"x","type":"quantitative","scale":{"domain":[1.5,201.2],"nice":false,"zero":false},"axis":{"title":null,"labels":false,"values":[50,100,150,200]}},
   "color":{"field":"s","type":"nominal","scale":{"domain":["β₁ = 0.05","β₁ = 0.1","β₁ = 0.15","β₁ = 0.2"],"range":["#ff0000","#008000","#00ffff","#0000ff"]},"legend":{"title":null}}},
  "layer":[
   {"data":{"name":"sp4"},"mark":{"type":"rule","strokeWidth":1,"opacity":0.12},"encoding":{}},
   {"data":{"name":"o5"},"mark":{"type":"line","clip":true,"strokeDash":[4.5,2],"strokeWidth":1.3},"encoding":{"y":{"field":"y","type":"quantitative","scale":{"domain":[10,5930],"nice":false,"zero":false},"axis":{"title":null,"labels":false,"values":[1000,2000,3000,4000,5000]}},"color":{"value":"#a52a2a"}}},
   {"mark":{"type":"line","clip":true,"interpolate":"monotone","strokeWidth":1.5},"encoding":{"y":{"field":"y","type":"quantitative","scale":{"domain":[10,5930],"nice":false,"zero":false},"axis":{"title":null,"labels":false,"values":[1000,2000,3000,4000,5000]}}}}
  ]},
 {"width":146,"height":108,"title":"β₂ (sqrt)","data":{"name":"p15"},
  "encoding":{"x":{"field":"x","type":"quantitative","scale":{"domain":[1.5,201.2],"nice":false,"zero":false},"axis":{"title":null,"labels":false,"values":[50,100,150,200]}},
   "color":{"field":"s","type":"nominal","scale":{"domain":["β₂ = 0.25","β₂ = 0.5","β₂ = 0.75","β₂ = 1.0"],"range":["#ff0000","#008000","#00ffff","#0000ff"]},"legend":{"title":null}}},
  "layer":[
   {"data":{"name":"sp5"},"mark":{"type":"rule","strokeWidth":1,"opacity":0.12},"encoding":{}},
   {"data":{"name":"o5"},"mark":{"type":"line","clip":true,"strokeDash":[4.5,2],"strokeWidth":1.3},"encoding":{"y":{"field":"y","type":"quantitative","scale":{"domain":[10,5930],"nice":false,"zero":false},"axis":{"title":null,"labels":false,"values":[1000,2000,3000,4000,5000]}},"color":{"value":"#a52a2a"}}},
   {"mark":{"type":"line","clip":true,"interpolate":"monotone","strokeWidth":1.5},"encoding":{"y":{"field":"y","type":"quantitative","scale":{"domain":[10,5930],"nice":false,"zero":false},"axis":{"title":null,"labels":false,"values":[1000,2000,3000,4000,5000]}}}}
  ]},
 {"width":146,"height":108,"title":"Weighting algorithm","data":{"name":"p16"},
  "encoding":{"x":{"field":"x","type":"quantitative","scale":{"domain":[1.5,201.2],"nice":false,"zero":false},"axis":{"title":null,"labels":false,"values":[50,100,150,200]}},
   "color":{"field":"s","type":"nominal","scale":{"domain":["Uniform","Old decay","Old drop","EI"],"range":["#ff0000","#008000","#00ffff","#0000ff"]},"legend":{"title":null}}},
  "layer":[
   {"data":{"name":"sp6"},"mark":{"type":"rule","strokeWidth":1,"opacity":0.12},"encoding":{}},
   {"data":{"name":"o5"},"mark":{"type":"line","clip":true,"strokeDash":[4.5,2],"strokeWidth":1.3},"encoding":{"y":{"field":"y","type":"quantitative","scale":{"domain":[10,5930],"nice":false,"zero":false},"axis":{"title":null,"labels":false,"values":[1000,2000,3000,4000,5000]}},"color":{"value":"#a52a2a"}}},
   {"mark":{"type":"line","clip":true,"interpolate":"monotone","strokeWidth":1.5},"encoding":{"y":{"field":"y","type":"quantitative","scale":{"domain":[10,5930],"nice":false,"zero":false},"axis":{"title":null,"labels":false,"values":[1000,2000,3000,4000,5000]}}}}
  ]},
 {"width":146,"height":108,"data":{"name":"p21"},
  "encoding":{"x":{"field":"x","type":"quantitative","scale":{"domain":[1.5,201.2],"nice":false,"zero":false},"axis":{"title":null,"labels":false,"values":[50,100,150,200]}},
   "color":{"field":"s","type":"nominal","scale":{"domain":["Multivariate","Univariate"],"range":["#ff0000","#0000ff"]},"legend":null}},
  "layer":[
   {"data":{"name":"sp1"},"mark":{"type":"rule","strokeWidth":1,"opacity":0.12},"encoding":{}},
   {"data":{"name":"o10"},"mark":{"type":"line","clip":true,"strokeDash":[4.5,2],"strokeWidth":1.3},"encoding":{"y":{"field":"y","type":"quantitative","scale":{"domain":[250,45440],"nice":false,"zero":false},"axis":{"title":"10D","values":[10000,20000,30000,40000],"format":"d","titlePadding":2,"labelPadding":3}},"color":{"value":"#a52a2a"}}},
   {"mark":{"type":"line","clip":true,"interpolate":"monotone","strokeWidth":1.5},"encoding":{"y":{"field":"y","type":"quantitative","scale":{"domain":[250,45440],"nice":false,"zero":false},"axis":{"title":"10D","values":[10000,20000,30000,40000],"format":"d","titlePadding":2,"labelPadding":3}}}}
  ]},
 {"width":146,"height":108,"data":{"name":"p22"},
  "encoding":{"x":{"field":"x","type":"quantitative","scale":{"domain":[1.5,201.2],"nice":false,"zero":false},"axis":{"title":null,"labels":false,"values":[50,100,150,200]}},
   "color":{"field":"s","type":"nominal","scale":{"domain":["With","Without"],"range":["#ff0000","#0000ff"]},"legend":null}},
  "layer":[
   {"data":{"name":"sp2"},"mark":{"type":"rule","strokeWidth":1,"opacity":0.12},"encoding":{}},
   {"data":{"name":"o10"},"mark":{"type":"line","clip":true,"strokeDash":[4.5,2],"strokeWidth":1.3},"encoding":{"y":{"field":"y","type":"quantitative","scale":{"domain":[250,45440],"nice":false,"zero":false},"axis":{"title":null,"labels":false,"values":[10000,20000,30000,40000]}},"color":{"value":"#a52a2a"}}},
   {"mark":{"type":"line","clip":true,"interpolate":"monotone","strokeWidth":1.5},"encoding":{"y":{"field":"y","type":"quantitative","scale":{"domain":[250,45440],"nice":false,"zero":false},"axis":{"title":null,"labels":false,"values":[10000,20000,30000,40000]}}}}
  ]},
 {"width":146,"height":108,"data":{"name":"p23"},
  "encoding":{"x":{"field":"x","type":"quantitative","scale":{"domain":[1.5,201.2],"nice":false,"zero":false},"axis":{"title":null,"labels":false,"values":[50,100,150,200]}},
   "color":{"field":"s","type":"nominal","scale":{"domain":["With","Without"],"range":["#ff0000","#0000ff"]},"legend":null}},
  "layer":[
   {"data":{"name":"sp2"},"mark":{"type":"rule","strokeWidth":1,"opacity":0.12},"encoding":{}},
   {"data":{"name":"o10"},"mark":{"type":"line","clip":true,"strokeDash":[4.5,2],"strokeWidth":1.3},"encoding":{"y":{"field":"y","type":"quantitative","scale":{"domain":[250,45440],"nice":false,"zero":false},"axis":{"title":null,"labels":false,"values":[10000,20000,30000,40000]}},"color":{"value":"#a52a2a"}}},
   {"mark":{"type":"line","clip":true,"interpolate":"monotone","strokeWidth":1.5},"encoding":{"y":{"field":"y","type":"quantitative","scale":{"domain":[250,45440],"nice":false,"zero":false},"axis":{"title":null,"labels":false,"values":[10000,20000,30000,40000]}}}}
  ]},
 {"width":146,"height":108,"data":{"name":"p24"},
  "encoding":{"x":{"field":"x","type":"quantitative","scale":{"domain":[1.5,201.2],"nice":false,"zero":false},"axis":{"title":null,"labels":false,"values":[50,100,150,200]}},
   "color":{"field":"s","type":"nominal","scale":{"domain":["β₁ = 0.05","β₁ = 0.1","β₁ = 0.15","β₁ = 0.2"],"range":["#ff0000","#008000","#00ffff","#0000ff"]},"legend":null}},
  "layer":[
   {"data":{"name":"sp4"},"mark":{"type":"rule","strokeWidth":1,"opacity":0.12},"encoding":{}},
   {"data":{"name":"o10"},"mark":{"type":"line","clip":true,"strokeDash":[4.5,2],"strokeWidth":1.3},"encoding":{"y":{"field":"y","type":"quantitative","scale":{"domain":[250,45440],"nice":false,"zero":false},"axis":{"title":null,"labels":false,"values":[10000,20000,30000,40000]}},"color":{"value":"#a52a2a"}}},
   {"mark":{"type":"line","clip":true,"interpolate":"monotone","strokeWidth":1.5},"encoding":{"y":{"field":"y","type":"quantitative","scale":{"domain":[250,45440],"nice":false,"zero":false},"axis":{"title":null,"labels":false,"values":[10000,20000,30000,40000]}}}}
  ]},
 {"width":146,"height":108,"data":{"name":"p25"},
  "encoding":{"x":{"field":"x","type":"quantitative","scale":{"domain":[1.5,201.2],"nice":false,"zero":false},"axis":{"title":null,"labels":false,"values":[50,100,150,200]}},
   "color":{"field":"s","type":"nominal","scale":{"domain":["β₂ = 0.25","β₂ = 0.5","β₂ = 0.75","β₂ = 1.0"],"range":["#ff0000","#008000","#00ffff","#0000ff"]},"legend":null}},
  "layer":[
   {"data":{"name":"sp5"},"mark":{"type":"rule","strokeWidth":1,"opacity":0.12},"encoding":{}},
   {"data":{"name":"o10"},"mark":{"type":"line","clip":true,"strokeDash":[4.5,2],"strokeWidth":1.3},"encoding":{"y":{"field":"y","type":"quantitative","scale":{"domain":[250,45440],"nice":false,"zero":false},"axis":{"title":null,"labels":false,"values":[10000,20000,30000,40000]}},"color":{"value":"#a52a2a"}}},
   {"mark":{"type":"line","clip":true,"interpolate":"monotone","strokeWidth":1.5},"encoding":{"y":{"field":"y","type":"quantitative","scale":{"domain":[250,45440],"nice":false,"zero":false},"axis":{"title":null,"labels":false,"values":[10000,20000,30000,40000]}}}}
  ]},
 {"width":146,"height":108,"data":{"name":"p26"},
  "encoding":{"x":{"field":"x","type":"quantitative","scale":{"domain":[1.5,201.2],"nice":false,"zero":false},"axis":{"title":null,"labels":false,"values":[50,100,150,200]}},
   "color":{"field":"s","type":"nominal","scale":{"domain":["Uniform","Old decay","Old drop","EI"],"range":["#ff0000","#008000","#00ffff","#0000ff"]},"legend":null}},
  "layer":[
   {"data":{"name":"sp6"},"mark":{"type":"rule","strokeWidth":1,"opacity":0.12},"encoding":{}},
   {"data":{"name":"o10"},"mark":{"type":"line","clip":true,"strokeDash":[4.5,2],"strokeWidth":1.3},"encoding":{"y":{"field":"y","type":"quantitative","scale":{"domain":[250,45440],"nice":false,"zero":false},"axis":{"title":null,"labels":false,"values":[10000,20000,30000,40000]}},"color":{"value":"#a52a2a"}}},
   {"mark":{"type":"line","clip":true,"interpolate":"monotone","strokeWidth":1.5},"encoding":{"y":{"field":"y","type":"quantitative","scale":{"domain":[250,45440],"nice":false,"zero":false},"axis":{"title":null,"labels":false,"values":[10000,20000,30000,40000]}}}}
  ]},
 {"width":146,"height":108,"data":{"name":"p31"},
  "encoding":{"x":{"field":"x","type":"quantitative","scale":{"domain":[1.5,201.2],"nice":false,"zero":false},"axis":{"title":null,"values":[50,100,150,200],"labelFlush":false,"labelPadding":0}},
   "color":{"field":"s","type":"nominal","scale":{"domain":["Multivariate","Univariate"],"range":["#ff0000","#0000ff"]},"legend":null}},
  "layer":[
   {"data":{"name":"sp1"},"mark":{"type":"rule","strokeWidth":1,"opacity":0.12},"encoding":{}},
   {"data":{"name":"o30"},"mark":{"type":"line","clip":true,"strokeDash":[4.5,2],"strokeWidth":1.3},"encoding":{"y":{"field":"y","type":"quantitative","scale":{"domain":[7100,244300],"nice":false,"zero":false},"axis":{"title":"30D","values":[50000,100000,150000,200000],"format":"d","titlePadding":0,"labelPadding":3}},"color":{"value":"#a52a2a"},
     "strokeDash":{"field":"s","type":"nominal","scale":{"domain":["Optuna"],"range":[[4.5,2]]},"legend":{"title":null,"orient":"none","legendX":395,"legendY":117,"strokeColor":"#dddddd","fillColor":"#ffffff","cornerRadius":3,"padding":3,"symbolType":"stroke","symbolSize":1150,"symbolStrokeWidth":1.3,"symbolStrokeColor":"#a52a2a","labelFontSize":15.5,"labelOffset":12}}}},
   {"mark":{"type":"line","clip":true,"interpolate":"monotone","strokeWidth":1.5},"encoding":{"y":{"field":"y","type":"quantitative","scale":{"domain":[7100,244300],"nice":false,"zero":false},"axis":{"title":"30D","values":[50000,100000,150000,200000],"format":"d","titlePadding":0,"labelPadding":3}}}}
  ]},
 {"width":146,"height":108,"data":{"name":"p32"},
  "encoding":{"x":{"field":"x","type":"quantitative","scale":{"domain":[1.5,201.2],"nice":false,"zero":false},"axis":{"title":null,"values":[50,100,150,200],"labelFlush":false,"labelPadding":0}},
   "color":{"field":"s","type":"nominal","scale":{"domain":["With","Without"],"range":["#ff0000","#0000ff"]},"legend":null}},
  "layer":[
   {"data":{"name":"sp2"},"mark":{"type":"rule","strokeWidth":1,"opacity":0.12},"encoding":{}},
   {"data":{"name":"o30"},"mark":{"type":"line","clip":true,"strokeDash":[4.5,2],"strokeWidth":1.3},"encoding":{"y":{"field":"y","type":"quantitative","scale":{"domain":[7100,244300],"nice":false,"zero":false},"axis":{"title":null,"labels":false,"values":[50000,100000,150000,200000]}},"color":{"value":"#a52a2a"}}},
   {"mark":{"type":"line","clip":true,"interpolate":"monotone","strokeWidth":1.5},"encoding":{"y":{"field":"y","type":"quantitative","scale":{"domain":[7100,244300],"nice":false,"zero":false},"axis":{"title":null,"labels":false,"values":[50000,100000,150000,200000]}}}}
  ]},
 {"width":146,"height":108,"data":{"name":"p33"},
  "encoding":{"x":{"field":"x","type":"quantitative","scale":{"domain":[1.5,201.2],"nice":false,"zero":false},"axis":{"title":null,"values":[50,100,150,200],"labelFlush":false,"labelPadding":0}},
   "color":{"field":"s","type":"nominal","scale":{"domain":["With","Without"],"range":["#ff0000","#0000ff"]},"legend":null}},
  "layer":[
   {"data":{"name":"sp2"},"mark":{"type":"rule","strokeWidth":1,"opacity":0.12},"encoding":{}},
   {"data":{"name":"o30"},"mark":{"type":"line","clip":true,"strokeDash":[4.5,2],"strokeWidth":1.3},"encoding":{"y":{"field":"y","type":"quantitative","scale":{"domain":[7100,244300],"nice":false,"zero":false},"axis":{"title":null,"labels":false,"values":[50000,100000,150000,200000]}},"color":{"value":"#a52a2a"}}},
   {"mark":{"type":"line","clip":true,"interpolate":"monotone","strokeWidth":1.5},"encoding":{"y":{"field":"y","type":"quantitative","scale":{"domain":[7100,244300],"nice":false,"zero":false},"axis":{"title":null,"labels":false,"values":[50000,100000,150000,200000]}}}}
  ]},
 {"width":146,"height":108,"data":{"name":"p34"},
  "encoding":{"x":{"field":"x","type":"quantitative","scale":{"domain":[1.5,201.2],"nice":false,"zero":false},"axis":{"title":null,"values":[50,100,150,200],"labelFlush":false,"labelPadding":0}},
   "color":{"field":"s","type":"nominal","scale":{"domain":["β₁ = 0.05","β₁ = 0.1","β₁ = 0.15","β₁ = 0.2"],"range":["#ff0000","#008000","#00ffff","#0000ff"]},"legend":null}},
  "layer":[
   {"data":{"name":"sp4"},"mark":{"type":"rule","strokeWidth":1,"opacity":0.12},"encoding":{}},
   {"data":{"name":"o30"},"mark":{"type":"line","clip":true,"strokeDash":[4.5,2],"strokeWidth":1.3},"encoding":{"y":{"field":"y","type":"quantitative","scale":{"domain":[7100,244300],"nice":false,"zero":false},"axis":{"title":null,"labels":false,"values":[50000,100000,150000,200000]}},"color":{"value":"#a52a2a"}}},
   {"mark":{"type":"line","clip":true,"interpolate":"monotone","strokeWidth":1.5},"encoding":{"y":{"field":"y","type":"quantitative","scale":{"domain":[7100,244300],"nice":false,"zero":false},"axis":{"title":null,"labels":false,"values":[50000,100000,150000,200000]}}}}
  ]},
 {"width":146,"height":108,"data":{"name":"p35"},
  "encoding":{"x":{"field":"x","type":"quantitative","scale":{"domain":[1.5,201.2],"nice":false,"zero":false},"axis":{"title":null,"values":[50,100,150,200],"labelFlush":false,"labelPadding":0}},
   "color":{"field":"s","type":"nominal","scale":{"domain":["β₂ = 0.25","β₂ = 0.5","β₂ = 0.75","β₂ = 1.0"],"range":["#ff0000","#008000","#00ffff","#0000ff"]},"legend":null}},
  "layer":[
   {"data":{"name":"sp5"},"mark":{"type":"rule","strokeWidth":1,"opacity":0.12},"encoding":{}},
   {"data":{"name":"o30"},"mark":{"type":"line","clip":true,"strokeDash":[4.5,2],"strokeWidth":1.3},"encoding":{"y":{"field":"y","type":"quantitative","scale":{"domain":[7100,244300],"nice":false,"zero":false},"axis":{"title":null,"labels":false,"values":[50000,100000,150000,200000]}},"color":{"value":"#a52a2a"}}},
   {"mark":{"type":"line","clip":true,"interpolate":"monotone","strokeWidth":1.5},"encoding":{"y":{"field":"y","type":"quantitative","scale":{"domain":[7100,244300],"nice":false,"zero":false},"axis":{"title":null,"labels":false,"values":[50000,100000,150000,200000]}}}}
  ]},
 {"width":146,"height":108,"data":{"name":"p36"},
  "encoding":{"x":{"field":"x","type":"quantitative","scale":{"domain":[1.5,201.2],"nice":false,"zero":false},"axis":{"title":null,"values":[50,100,150,200],"labelFlush":false,"labelPadding":0}},
   "color":{"field":"s","type":"nominal","scale":{"domain":["Uniform","Old decay","Old drop","EI"],"range":["#ff0000","#008000","#00ffff","#0000ff"]},"legend":null}},
  "layer":[
   {"data":{"name":"sp6"},"mark":{"type":"rule","strokeWidth":1,"opacity":0.12},"encoding":{}},
   {"data":{"name":"o30"},"mark":{"type":"line","clip":true,"strokeDash":[4.5,2],"strokeWidth":1.3},"encoding":{"y":{"field":"y","type":"quantitative","scale":{"domain":[7100,244300],"nice":false,"zero":false},"axis":{"title":null,"labels":false,"values":[50000,100000,150000,200000]}},"color":{"value":"#a52a2a"}}},
   {"mark":{"type":"line","clip":true,"interpolate":"monotone","strokeWidth":1.5},"encoding":{"y":{"field":"y","type":"quantitative","scale":{"domain":[7100,244300],"nice":false,"zero":false},"axis":{"title":null,"labels":false,"values":[50000,100000,150000,200000]}}}}
  ]}
]
}
